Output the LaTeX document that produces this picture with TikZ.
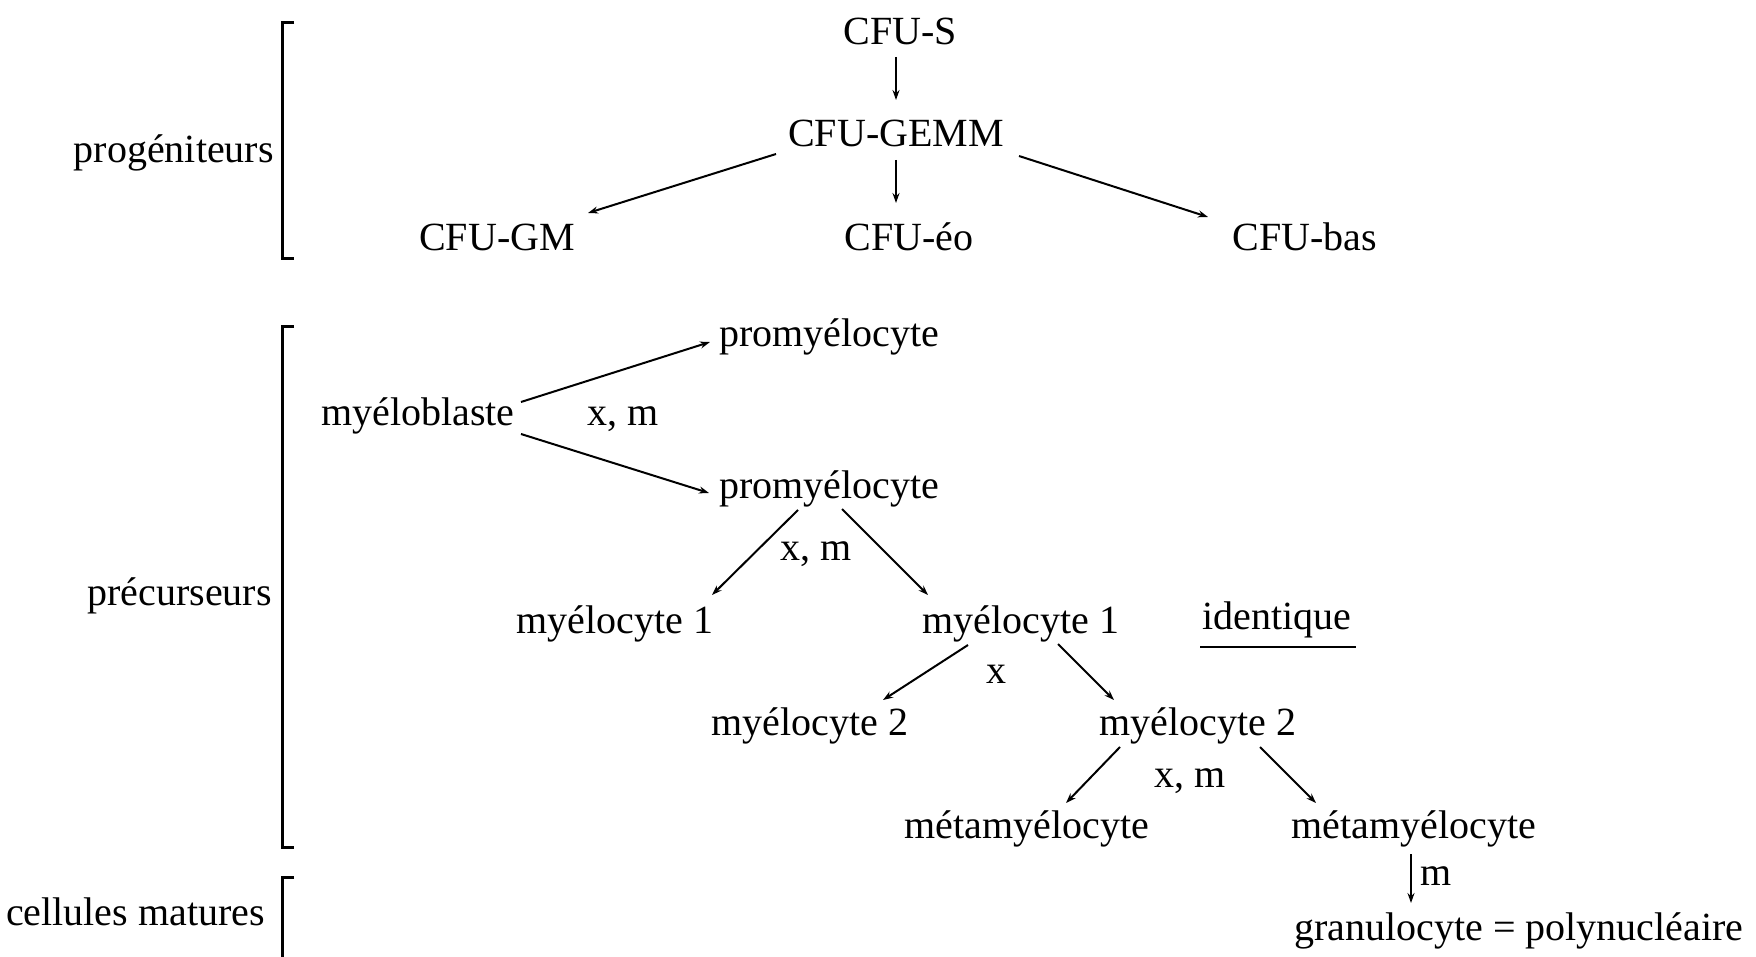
\documentclass[tikz,border=0pt]{standalone}
\usepackage{fontspec}
\setmainfont{Liberation Serif}
\usetikzlibrary{arrows.meta}
\tikzset{
  lbl/.style={inner sep=0pt, anchor=base, font=\fontsize{40}{48}\selectfont},
  arr/.style={line width=2pt, -{Stealth[length=10pt,width=7pt]}},
  brk/.style={line width=3pt},
}
\begin{document}
\begin{tikzpicture}[x=1pt,y=-1pt]
\useasboundingbox (0,0) rectangle (1756,957);
% left labels
\node[lbl, anchor=base east] (prog) at (274,163) {progéniteurs};
\node[lbl, anchor=base east] (prec) at (272,605) {précurseurs};
\node[lbl, anchor=base east] (mat) at (265,925) {cellules matures};
% brackets
\draw[brk] (294,23) -- (282,23) -- (282,259) -- (294,259);
\draw[brk] (294,327) -- (282,327) -- (282,847) -- (294,847);
\draw[brk] (294,877) -- (282,877) -- (282,962);
% progenitors
\node[lbl] (cfus) at (900,45) {CFU-S};
\node[lbl] (gemm) at (896,147) {CFU-GEMM};
\node[lbl] (gm) at (497,251) {CFU-GM};
\node[lbl] (eo) at (909,251) {CFU-éo};
\node[lbl] (bas) at (1305,251) {CFU-bas};
\draw[arr] ([shift={(-4,12)}]cfus.base) -- ([shift={(0,-47)}]gemm.base);
\draw[arr] ([shift={(0,13)}]gemm.base) -- ([shift={(-13,-48)}]eo.base);
\draw[arr] ([shift={(-120,7)}]gemm.base) -- ([shift={(91,-38)}]gm.base);
\draw[arr] ([shift={(123,9)}]gemm.base) -- ([shift={(-97,-34)}]bas.base);
% precursors
\node[lbl] (pT) at (829,347) {promyélocyte};
\node[lbl] (mb) at (418,425) {myéloblaste};
\node[lbl] (xm1) at (623,425) {x, m};
\node[lbl] (pB) at (829,498) {promyélocyte};
\node[lbl] (xm2) at (816,560) {x, m};
\node[lbl] (m1L) at (615,633) {myélocyte 1};
\node[lbl] (m1R) at (1021,633) {myélocyte 1};
\node[lbl] (ident) at (1277,629) {identique};
\node[lbl] (x3) at (996,683) {x};
\node[lbl] (m2L) at (810,735) {myélocyte 2};
\node[lbl] (m2R) at (1198,735) {myélocyte 2};
\node[lbl] (xm4) at (1190,787) {x, m};
\node[lbl] (metaL) at (1027,838) {métamyélocyte};
\node[lbl] (metaR) at (1414,838) {métamyélocyte};
\node[lbl, anchor=base west] (mlab) at (1420,885) {m};
\node[lbl, anchor=base west] (gran) at (1294,940) {granulocyte = polynucléaire};
\draw[line width=2.5pt] ([shift={(-77,18)}]ident.base) -- ([shift={(79,18)}]ident.base);
\draw[arr] ([shift={(103,-23)}]mb.base) -- ([shift={(-119,-5)}]pT.base);
\draw[arr] ([shift={(103,9)}]mb.base) -- ([shift={(-120,-5)}]pB.base);
\draw[arr] ([shift={(-31,12)}]pB.base) -- ([shift={(97,-38)}]m1L.base);
\draw[arr] ([shift={(13,11)}]pB.base) -- ([shift={(-93,-38)}]m1R.base);
\draw[arr] ([shift={(-53,12)}]m1R.base) -- ([shift={(73,-35)}]m2L.base);
\draw[arr] ([shift={(37,11)}]m1R.base) -- ([shift={(-84,-35)}]m2R.base);
\draw[arr] ([shift={(-78,12)}]m2R.base) -- ([shift={(39,-35)}]metaL.base);
\draw[arr] ([shift={(62,12)}]m2R.base) -- ([shift={(-98,-35)}]metaR.base);
\draw[arr] ([shift={(-3,16)}]metaR.base) -- ([shift={(117,-37)}]gran.base west);
\end{tikzpicture}
\end{document}
